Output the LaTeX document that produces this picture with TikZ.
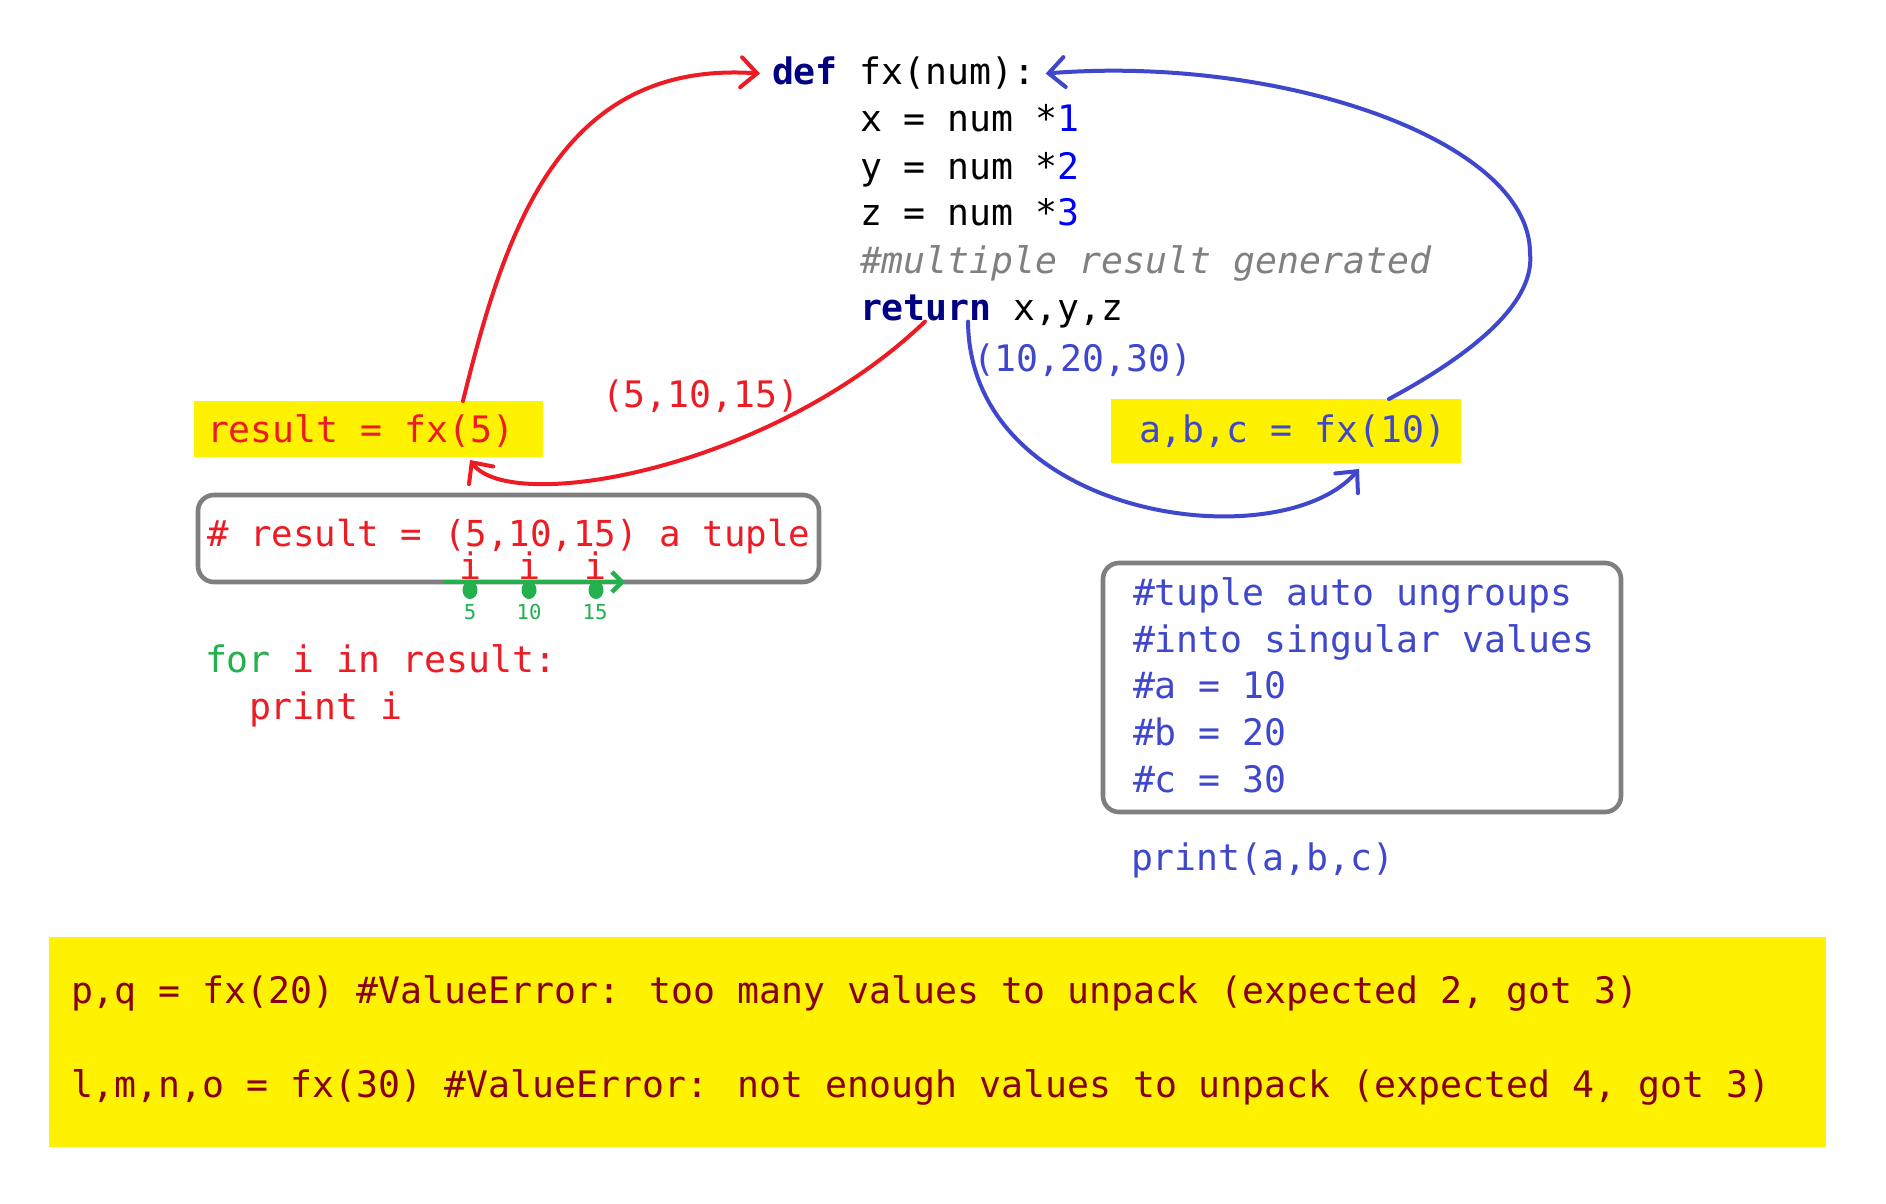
\documentclass[tikz,border=0pt]{standalone}
\usepackage{fontspec}
\newfontfamily\codefont{DejaVu Sans Mono}
\usetikzlibrary{arrows.meta,shapes.geometric}
\definecolor{pred}{HTML}{ED1C24}
\definecolor{pblue}{HTML}{3F48CC}
\definecolor{kw}{HTML}{000080}
\definecolor{numc}{HTML}{0000FF}
\definecolor{cmt}{HTML}{808080}
\definecolor{pgreen}{HTML}{22B14C}
\definecolor{pyel}{HTML}{FFF200}
\definecolor{dred}{HTML}{880015}
\definecolor{bord}{HTML}{7F7F7F}
\newcommand\mycode{\codefont\fontsize{18.25}{23.5}\selectfont}
\newcommand\smallcode{\codefont\fontsize{10.3}{12}\selectfont}
\begin{document}
\begin{tikzpicture}[x=0.5pt,y=-0.5pt,
  txt/.style={inner sep=0pt, outer sep=0pt, anchor=base west, font=\mycode},
  ctxt/.style={inner sep=0pt, outer sep=0pt, anchor=base, font=\mycode},
  ybox/.style={fill=pyel, inner sep=0pt, outer sep=0pt, anchor=north west},
  gbox/.style={draw=bord, line width=2.3pt, rounded corners=8pt, inner sep=0pt, outer sep=0pt, anchor=north west},
  redarr/.style={draw=pred, line width=2pt, line cap=round, -{Straight Barb[length=8pt,width=15pt,line cap=round]}},
  bluearr/.style={draw=pblue, line width=2pt, line cap=round, -{Straight Barb[length=8pt,width=15pt,line cap=round]}},
  grnarr/.style={draw=pgreen, line width=2.2pt, -{Straight Barb[length=5pt,width=10pt]}},
  gdot/.style={ellipse, fill=pgreen, inner sep=0pt, minimum width=7.5pt, minimum height=9pt},
  glbl/.style={inner sep=0pt, anchor=base, font=\smallcode, text=pgreen}
]
\fill[white] (0,0) rectangle (1886,1204);
\useasboundingbox (0,0) rectangle (1886,1204);

% code block
\node[txt] (L0) at (772,85) {{\color{kw}\bfseries def} fx(num):};
\node[txt] (L1) at (860,132) {x = num *{\color{numc}1}};
\node[txt] (L2) at (860,179) {y = num *{\color{numc}2}};
\node[txt] (L3) at (860,226) {z = num *{\color{numc}3}};
\node[txt, text=cmt] (L4) at (860,273) {\itshape\#multiple result generated};
\node[txt] (L5) at (860,320) {{\color{kw}\bfseries return} x,y,z};

% left side
\node[ybox, minimum width=174.5pt, minimum height=28pt] (res) at (194,401) {};
\node[txt, text=pred] (restxt) at (207,442) {result = fx(5)};
\node[txt, text=pred] (lbl1) at (602,407) {(5,10,15)};
\node[gbox, minimum width=310.5pt, minimum height=43.5pt] (tup) at (198,495) {};
\node[txt, text=pred, font={\codefont\fontsize{17.9}{23.5}\selectfont}] (tuptxt) at (207,546) {\# result = (5,10,15) a tuple};
\node[ctxt, text=pred] (i1) at (470,579) {i};
\node[ctxt, text=pred] (i2) at (529,579) {i};
\node[ctxt, text=pred] (i3) at (595,579) {i};
\coordinate (gs) at (443,582);
\coordinate (ge) at (625,582);
\draw[grnarr] (gs) -- (ge);
\node[gdot] (d1) at (470,590) {};
\node[gdot] (d2) at (529,590) {};
\node[gdot] (d3) at (596,590) {};
\node[glbl] (n1) at (470,619) {5};
\node[glbl] (n2) at (529,619) {10};
\node[glbl] (n3) at (595,619) {15};
\node[txt, text=pred] (forl) at (205,672) {{\color{pgreen}for} i in result:};
\node[txt, text=pred] (prl) at (249,719) {print i};

% right side
\node[txt, text=pblue] (lbl2) at (973,371) {(10,20,30)};
\node[ybox, minimum width=175pt, minimum height=32pt] (abc) at (1111,399) {};
\node[txt, text=pblue] (abctxt) at (1139,442) {a,b,c = fx(10)};
\node[gbox, minimum width=259pt, minimum height=124.5pt] (tup2) at (1103,563) {};
\node[txt, text=pblue] (t1) at (1133,605) {\#tuple auto ungroups};
\node[txt, text=pblue] (t2) at (1133,652) {\#into singular values};
\node[txt, text=pblue] (t3) at (1133,698) {\#a = 10};
\node[txt, text=pblue] (t4) at (1133,745) {\#b = 20};
\node[txt, text=pblue] (t5) at (1133,792) {\#c = 30};
\node[txt, text=pblue] (pr2) at (1131,870) {print(a,b,c)};

% bottom band
\node[ybox, minimum width=888.5pt, minimum height=105pt] (band) at (49,937) {};
\node[txt, text=dred] (e1) at (71,1003) {p,q = fx(20) \#ValueError: too many values to unpack (expected 2, got 3)};
\node[txt, text=dred] (e2) at (71,1097) {l,m,n,o = fx(30) \#ValueError: not enough values to unpack (expected 4, got 3)};

% connectors
\draw[redarr] ([xshift=134.5pt]res.north west) .. controls (505,230) and (560,60) .. ([xshift=-6pt]L0.west);
\draw[redarr] ([xshift=32.5pt,yshift=3pt]L5.south west) .. controls (770,470) and (510,515) .. ([xshift=138pt,yshift=-1.5pt]res.south west);
\draw[bluearr] ([xshift=139pt]abc.north west) .. controls (1480,350) and (1535,300) .. (1530,253) .. controls (1530,140) and (1280,55) .. ([xshift=5pt]L0.east);
\draw[bluearr] ([xshift=54pt,yshift=3pt]L5.south west) .. controls (970,520) and (1280,560) .. ([xshift=124pt,yshift=-3pt]abc.south west);
\end{tikzpicture}
\end{document}
